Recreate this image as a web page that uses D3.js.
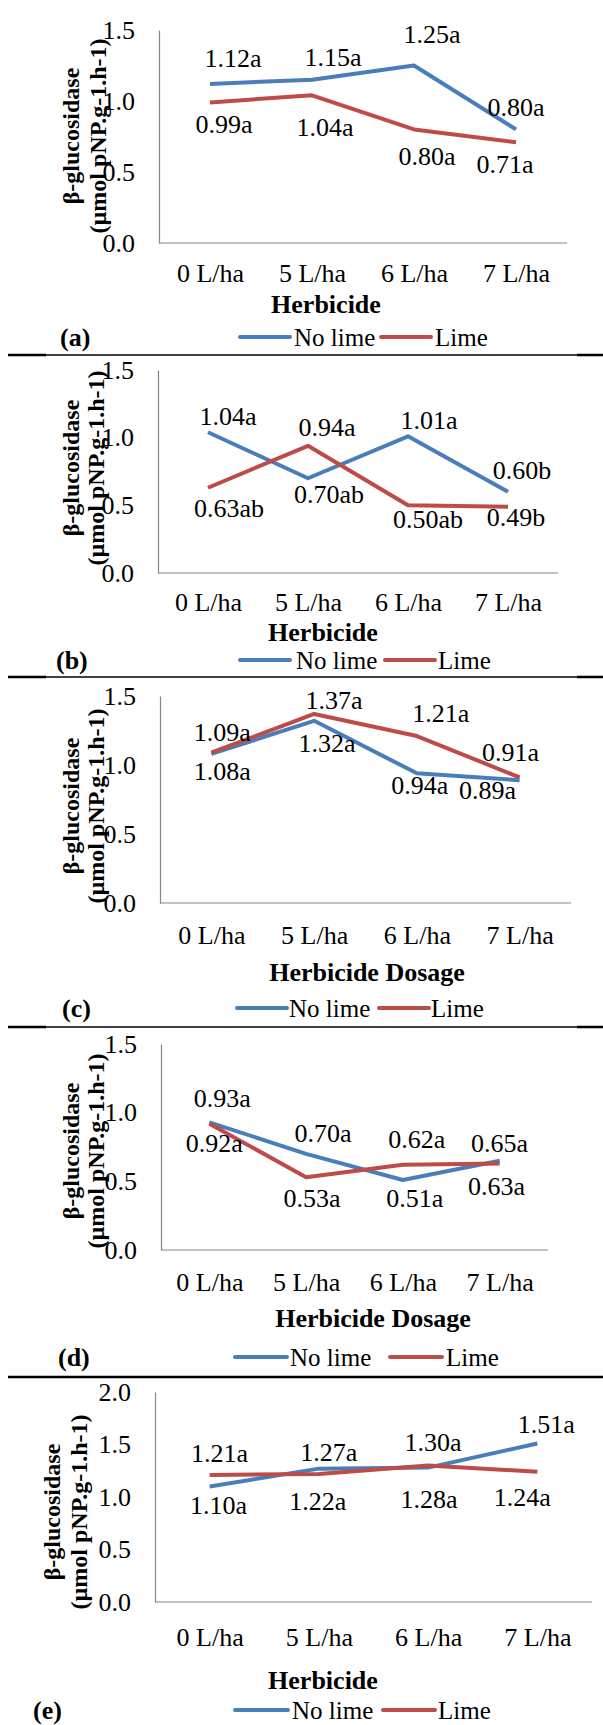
<!DOCTYPE html>
<html lang="en">
<head>
  <meta charset="UTF-8">
  <title>beta-glucosidase panels</title>
  <style>
    body { margin: 0; background: #fff; }
    svg { display: block; font-family: "Liberation Serif", "Times New Roman", serif; }
    .axis path { stroke: #868686; stroke-width: 1.2px; }
    .axis text { font-size: 26px; fill: #000; font-family: "Liberation Serif", "Times New Roman", serif; }
    .lbl { font-size: 26px; fill: #000; }
    .xtitle { font-size: 26px; font-weight: bold; }
    .ytitle { font-size: 24px; font-weight: bold; }
    .legend { font-size: 25px; }
    .panel-id { font-size: 26px; font-weight: bold; }
  </style>
</head>
<body>
  <div id="chart"></div>

  <script src="https://d3js.org/d3.v7.min.js"></script>
  <script>
    // data
    const categories = ["0 L/ha", "5 L/ha", "6 L/ha", "7 L/ha"];
    const seriesNames = ["No lime", "Lime"];

    const noLimeA = [1.12, 1.15, 1.25, 0.80];
    const limeA   = [0.99, 1.04, 0.80, 0.71];
    const lettersNoLimeA = ["a", "a", "a", "a"];
    const lettersLimeA   = ["a", "a", "a", "a"];

    const noLimeB = [1.04, 0.70, 1.01, 0.60];
    const limeB   = [0.63, 0.94, 0.50, 0.49];
    const lettersNoLimeB = ["a", "ab", "a", "b"];
    const lettersLimeB   = ["ab", "a", "ab", "b"];

    const noLimeC = [1.08, 1.32, 0.94, 0.89];
    const limeC   = [1.09, 1.37, 1.21, 0.91];
    const lettersNoLimeC = ["a", "a", "a", "a"];
    const lettersLimeC   = ["a", "a", "a", "a"];

    const noLimeD = [0.93, 0.70, 0.51, 0.65];
    const limeD   = [0.92, 0.53, 0.62, 0.63];
    const lettersNoLimeD = ["a", "a", "a", "a"];
    const lettersLimeD   = ["a", "a", "a", "a"];

    const noLimeE = [1.10, 1.27, 1.28, 1.51];
    const limeE   = [1.21, 1.22, 1.30, 1.24];
    const lettersNoLimeE = ["a", "a", "a", "a"];
    const lettersLimeE   = ["a", "a", "a", "a"];

    const yTicks15 = [0, 0.5, 1.0, 1.5];
    const yTicks20 = [0, 0.5, 1.0, 1.5, 2.0];
    const xTitles = ["Herbicide", "Herbicide", "Herbicide Dosage", "Herbicide Dosage", "Herbicide"];
    const panelIds = ["(a)", "(b)", "(c)", "(d)", "(e)"];

    const colors = { noLime: "#4A7EBB", lime: "#BE4B48" };

    // layout of each panel (pixels), and hand-placed label offsets
    const layouts = [
      { left: 159, right: 567, top: 30, bottom: 243, tickPad: 21, titleX: 326, titleY: 313,
        legendY: 337, legend: [240, 290, 294, 381, 431, 435], idX: 60, yTitleX: [71, 98], yTitleY: 136,
        offNo: [[23, -26], [21, -23], [18, -32], [0, -23]], offLime: [[14, 21], [13, 32], [13, 26], [-11, 22]] },
      { left: 158, right: 558, top: 370, bottom: 573, tickPad: 20, titleX: 323, titleY: 641,
        legendY: 660, legend: [240, 290, 296, 385, 435, 438], idX: 56, yTitleX: [71, 96], yTitleY: 468,
        offNo: [[20, -16], [21, 16], [21, -16], [14, -22]], offLime: [[21, 20], [19, -19], [20, 14], [8, 10]] },
      { left: 160, right: 571, top: 696, bottom: 903, tickPad: 23, titleX: 367, titleY: 981,
        legendY: 1008, legend: [237, 287, 289, 379, 429, 431], idX: 62, yTitleX: [71, 96], yTitleY: 806,
        offNo: [[11, 17], [13, 22], [3, 12], [-32, 10]], offLime: [[11, -21], [20, -14], [24, -23], [-9, -26]] },
      { left: 161, right: 548, top: 1044, bottom: 1250, tickPad: 23, titleX: 373, titleY: 1327,
        legendY: 1357, legend: [235, 287, 290, 390, 442, 446], idX: 58, yTitleX: [71, 96], yTitleY: 1151,
        offNo: [[13, -24], [17, -21], [12, 18], [0, -18]], offLime: [[5, 19], [6, 21], [14, -26], [-3, 22]] },
      { left: 155, right: 592, top: 1392, bottom: 1602, tickPad: 26, titleX: 323, titleY: 1689,
        legendY: 1710, legend: [235, 288, 292, 383, 435, 438], idX: 33, yTitleX: [52, 79], yTitleY: 1512,
        offNo: [[9, 18], [10, -17], [1, 31], [9, -20]], offLime: [[10, -22], [-1, 27], [5, -24], [-15, 25]] }
    ];

    const panels = [
      { noLime: noLimeA, lime: limeA, lNo: lettersNoLimeA, lLime: lettersLimeA, ticks: yTicks15 },
      { noLime: noLimeB, lime: limeB, lNo: lettersNoLimeB, lLime: lettersLimeB, ticks: yTicks15 },
      { noLime: noLimeC, lime: limeC, lNo: lettersNoLimeC, lLime: lettersLimeC, ticks: yTicks15 },
      { noLime: noLimeD, lime: limeD, lNo: lettersNoLimeD, lLime: lettersLimeD, ticks: yTicks15 },
      { noLime: noLimeE, lime: limeE, lNo: lettersNoLimeE, lLime: lettersLimeE, ticks: yTicks20 }
    ];

    const width = 603, height = 1725;
    const svg = d3.select("#chart").append("svg")
      .attr("width", width)
      .attr("height", height);

    panels.forEach((p, i) => drawPanel(p, layouts[i], i));

    // separators between panels
    [355, 677, 1027].forEach(y => {
      svg.append("line").attr("x1", 46).attr("x2", 577).attr("y1", y).attr("y2", y)
        .attr("stroke", "#000").attr("stroke-width", 1.3);
      svg.append("line").attr("x1", 8).attr("x2", 46).attr("y1", y).attr("y2", y)
        .attr("stroke", "#000").attr("stroke-width", 2.5);
      svg.append("line").attr("x1", 577).attr("x2", 603).attr("y1", y).attr("y2", y)
        .attr("stroke", "#000").attr("stroke-width", 2.5);
    });
    svg.append("line").attr("x1", 8).attr("x2", 603).attr("y1", 1377).attr("y2", 1377)
      .attr("stroke", "#000").attr("stroke-width", 2.5);

    function drawPanel(p, L, i) {
      const yMax = d3.max(p.ticks);
      const x = d3.scalePoint().domain(categories).range([L.left, L.right]).padding(0.5);
      const y = d3.scaleLinear().domain([0, yMax]).range([L.bottom, L.top]);
      const g = svg.append("g");

      // axes
      g.append("g")
        .attr("class", "axis")
        .attr("transform", `translate(${L.left},0)`)
        .call(d3.axisLeft(y).tickValues(p.ticks).tickFormat(d3.format(".1f")).tickSize(0).tickPadding(24));
      g.append("g")
        .attr("class", "axis")
        .attr("transform", `translate(0,${L.bottom})`)
        .call(d3.axisBottom(x).tickSize(0).tickSizeOuter(0).tickPadding(L.tickPad))
        .call(a => a.select(".domain").attr("d", `M${L.left},0H${L.right}`));
      g.selectAll(".axis .domain").attr("fill", "none");

      // y title
      const yt = g.append("text")
        .attr("class", "ytitle")
        .attr("text-anchor", "middle")
        .attr("transform", `translate(${L.yTitleX[0]},${L.yTitleY}) rotate(-90)`);
      yt.append("tspan").attr("x", 0).attr("dy", "0.35em").text("β-glucosidase");
      yt.append("tspan").attr("x", 0).attr("dy", L.yTitleX[1] - L.yTitleX[0]).text("(µmol pNP.g-1.h-1)");

      // x title
      g.append("text")
        .attr("class", "xtitle")
        .attr("x", L.titleX)
        .attr("y", L.titleY)
        .attr("text-anchor", "middle")
        .text(xTitles[i]);

      // lines
      const line = d3.line().x((d, k) => x(categories[k])).y(d => y(d));
      g.append("path").datum(p.noLime)
        .attr("fill", "none").attr("stroke", colors.noLime).attr("stroke-width", 4)
        .attr("stroke-linejoin", "round").attr("d", line);
      g.append("path").datum(p.lime)
        .attr("fill", "none").attr("stroke", colors.lime).attr("stroke-width", 4)
        .attr("stroke-linejoin", "round").attr("d", line);

      // data labels
      const addLabels = (vals, letters, offs) => {
        g.append("g").selectAll("text")
          .data(vals)
          .join("text")
          .attr("class", "lbl")
          .attr("text-anchor", "middle")
          .attr("dy", "0.35em")
          .attr("x", (d, k) => x(categories[k]) + offs[k][0])
          .attr("y", (d, k) => y(d) + offs[k][1])
          .text((d, k) => d3.format(".2f")(d) + letters[k]);
      };
      addLabels(p.noLime, p.lNo, L.offNo);
      addLabels(p.lime, p.lLime, L.offLime);

      // panel id
      g.append("text")
        .attr("class", "panel-id")
        .attr("x", L.idX)
        .attr("y", L.legendY)
        .attr("dy", "0.35em")
        .text(panelIds[i]);

      // legend
      const lg = L.legend;
      g.append("line").attr("x1", lg[0]).attr("x2", lg[1]).attr("y1", L.legendY).attr("y2", L.legendY)
        .attr("stroke", colors.noLime).attr("stroke-width", 4).attr("stroke-linecap", "round");
      g.append("text").attr("class", "legend").attr("x", lg[2]).attr("y", L.legendY).attr("dy", "0.35em")
        .text(seriesNames[0]);
      g.append("line").attr("x1", lg[3]).attr("x2", lg[4]).attr("y1", L.legendY).attr("y2", L.legendY)
        .attr("stroke", colors.lime).attr("stroke-width", 4).attr("stroke-linecap", "round");
      g.append("text").attr("class", "legend").attr("x", lg[5]).attr("y", L.legendY).attr("dy", "0.35em")
        .text(seriesNames[1]);
    }
  </script>
</body>
</html>
